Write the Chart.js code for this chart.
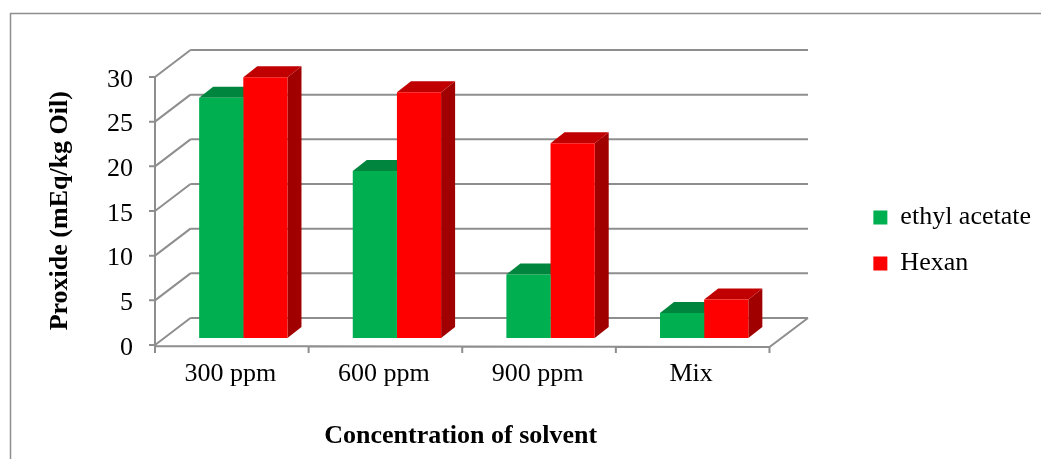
<!DOCTYPE html>
<html>
<head>
<meta charset="utf-8">
<script src="https://cdn.jsdelivr.net/npm/chart.js@4.4.1/dist/chart.umd.min.js"></script>
<style>
  html, body { margin: 0; padding: 0; background: #fff; }
  #wrap { width: 1041px; height: 459px; }
</style>
</head>
<body>
<div id="wrap"><canvas id="chart"></canvas></div>
<script>
// ============================
// Data
// ============================
const categories = ["300 ppm", "600 ppm", "900 ppm", "Mix"];
const ethylAcetate = [26.9, 18.7, 7.1, 2.8];
const hexan = [29.2, 27.5, 21.8, 4.3];
const yTicks = [0, 5, 10, 15, 20, 25, 30];

// ============================
// Look
// ============================
const FONT = "'Liberation Serif', 'Times New Roman', serif";
const GRID = "#8e8e8e";
const FRONT = { x: -11.5, y: 7 };   // front plane offset from bar plane
const BACK = { x: 24, y: -20 };     // back wall offset from bar plane
const DEPTH = { x: 14, y: -11 };    // bar depth

const faceColors = [
    { top: "#00853E", side: "#006B32" },
    { top: "#C00000", side: "#A00000" }
];

// ============================
// 3D frame + bar faces
// ============================
const frame3d = {
    id: "frame3d",
    beforeDraw(chart) {
        const ctx = chart.ctx;
        ctx.save();
        ctx.strokeStyle = GRID;
        ctx.lineWidth = 1.5;
        ctx.beginPath();
        ctx.moveTo(10.5, chart.height);
        ctx.lineTo(10.5, 13.5);
        ctx.lineTo(chart.width, 13.5);
        ctx.stroke();
        ctx.restore();
    },
    beforeDatasetsDraw(chart) {
        const ctx = chart.ctx;
        const xs = chart.scales.x, ys = chart.scales.y;
        const x0 = xs.getPixelForValue(-0.5);
        const x1 = xs.getPixelForValue(categories.length - 0.5);
        ctx.save();
        ctx.strokeStyle = GRID;
        ctx.lineWidth = 2;
        ctx.beginPath();
        yTicks.forEach(v => {
            const py = ys.getPixelForValue(v);
            // back wall line
            ctx.moveTo(x0 + BACK.x, py + BACK.y);
            ctx.lineTo(x1 + BACK.x + 3, py + BACK.y);
            // side wall diagonal
            ctx.moveTo(x0 + FRONT.x, py + FRONT.y);
            ctx.lineTo(x0 + BACK.x, py + BACK.y);
            // tick mark
            ctx.moveTo(x0 + FRONT.x - 6, py + FRONT.y);
            ctx.lineTo(x0 + FRONT.x, py + FRONT.y);
        });
        const yb = ys.getPixelForValue(0);
        const yt = ys.getPixelForValue(yTicks[yTicks.length - 1]);
        // front value axis
        ctx.moveTo(x0 + FRONT.x, yt + FRONT.y);
        ctx.lineTo(x0 + FRONT.x, yb + FRONT.y + 1);
        // floor front edge and right edge
        ctx.moveTo(x0 + FRONT.x, yb + FRONT.y + 1);
        ctx.lineTo(x1 + FRONT.x, yb + FRONT.y + 2);
        ctx.lineTo(x1 + BACK.x + 3, yb + BACK.y);
        // category tick marks
        for (let i = 0; i <= categories.length; i++) {
            const px = xs.getPixelForValue(i - 0.5) + FRONT.x;
            ctx.moveTo(px, yb + FRONT.y + 1);
            ctx.lineTo(px, yb + FRONT.y + 8);
        }
        ctx.stroke();

        // top and side faces of the bars
        chart.data.datasets.forEach((ds, di) => {
            const meta = chart.getDatasetMeta(di);
            meta.data.forEach(bar => {
                const l = bar.x - bar.width / 2, r = bar.x + bar.width / 2;
                const t = bar.y, b = bar.base;
                ctx.fillStyle = faceColors[di].side;
                ctx.beginPath();
                ctx.moveTo(r, t);
                ctx.lineTo(r + DEPTH.x, t + DEPTH.y);
                ctx.lineTo(r + DEPTH.x, b + DEPTH.y);
                ctx.lineTo(r, b);
                ctx.closePath();
                ctx.fill();
                ctx.fillStyle = faceColors[di].top;
                ctx.beginPath();
                ctx.moveTo(l, t);
                ctx.lineTo(l + DEPTH.x, t + DEPTH.y);
                ctx.lineTo(r + DEPTH.x, t + DEPTH.y);
                ctx.lineTo(r, t);
                ctx.closePath();
                ctx.fill();
            });
        });
        ctx.restore();
    }
};

// ============================
// Chart
// ============================
const ctx = document.getElementById("chart").getContext("2d");
new Chart(ctx, {
    type: "bar",
    data: {
        datasets: [
            {
                label: "ethyl acetate",
                data: ethylAcetate.map((v, i) => ({ x: i, y: v })),
                backgroundColor: "#00B050",
                borderWidth: 0,
                categoryPercentage: 0.575,
                barPercentage: 1.0
            },
            {
                label: "Hexan",
                data: hexan.map((v, i) => ({ x: i, y: v })),
                backgroundColor: "#FF0000",
                borderWidth: 0,
                categoryPercentage: 0.575,
                barPercentage: 1.0
            }
        ]
    },
    options: {
        responsive: true,
        maintainAspectRatio: false,
        animation: false,
        layout: { padding: { left: 20, right: 0, top: 22, bottom: 0 } },
        plugins: {
            tooltip: { enabled: false },
            legend: {
                position: "right",
                labels: {
                    font: { family: FONT, size: 26 },
                    color: "#000",
                    boxWidth: 14,
                    boxHeight: 14,
                    padding: 20
                }
            }
        },
        scales: {
            x: {
                type: "linear",
                position: "bottom",
                offset: false,
                min: -0.5,
                max: 3.33,
                grid: { display: false },
                border: { display: false },
                afterBuildTicks: (s) => { s.ticks = categories.map((c, i) => ({ value: i })); },
                afterFit: (s) => { s.height = 107.6; },
                ticks: {
                    callback: (v) => categories[v],
                    font: { family: FONT, size: 26 },
                    color: "#000",
                    padding: -1,
                    labelOffset: -13,
                    maxRotation: 0,
                    autoSkip: false
                },
                title: {
                    display: true,
                    text: "Concentration of solvent",
                    font: { family: FONT, size: 26, weight: "bold" },
                    color: "#000",
                    padding: { top: 0, bottom: 7.4 }
                }
            },
            xTop: {
                type: "linear",
                position: "top",
                display: false,
                afterFit: (s) => { s.height = 48; }
            },
            y: {
                min: -1.5,
                max: 30,
                grid: { display: false },
                border: { display: false },
                afterBuildTicks: (s) => { s.ticks = yTicks.map(v => ({ value: v })); },
                afterFit: (s) => { s.width = 146.5; },
                ticks: {
                    font: { family: FONT, size: 26 },
                    color: "#000",
                    padding: 25.5,
                    labelOffset: 10
                },
                title: {
                    display: true,
                    text: "Proxide (mEq/kg Oil)",
                    font: { family: FONT, size: 26, weight: "bold" },
                    color: "#000",
                    padding: { top: 25, bottom: 0 }
                }
            },
            yRight: {
                position: "right",
                display: false,
                afterFit: (s) => { s.width = 98.5; }
            }
        }
    },
    plugins: [frame3d]
});
</script>
</body>
</html>
